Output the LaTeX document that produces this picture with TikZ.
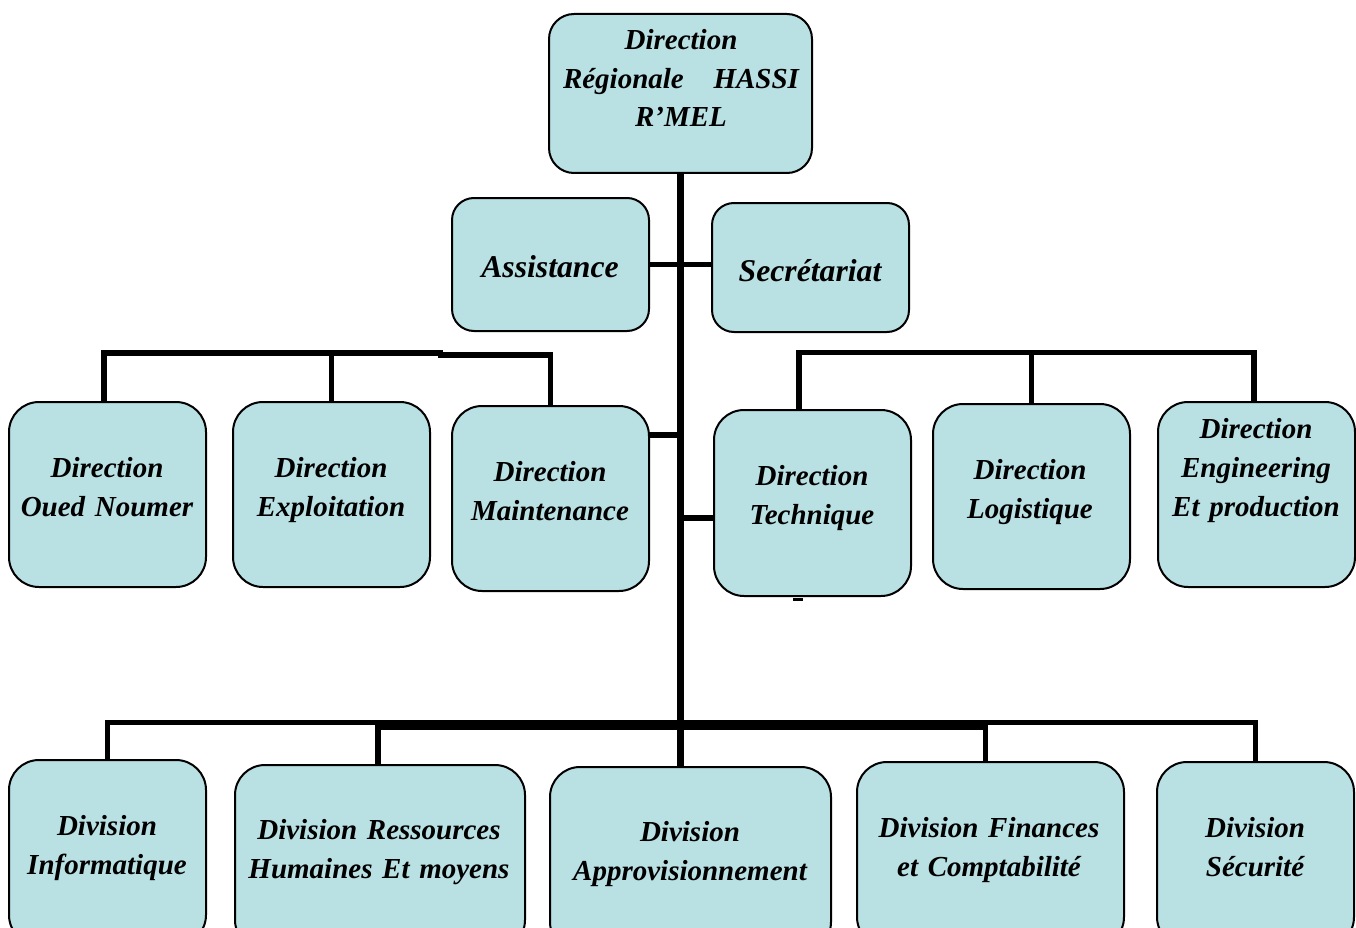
\documentclass[tikz,border=0pt]{standalone}
\usepackage{fontspec}
\setmainfont{Liberation Serif}
\definecolor{boxfill}{RGB}{185,224,227}
\tikzset{
  orgbox/.style={draw=black, line width=2pt, fill=boxfill, rounded corners=30pt,
    inner sep=0pt, minimum width=197pt, minimum height=185pt},
  link/.style={draw=black, line width=5.5pt, line join=miter, line cap=butt},
  lbl/.style={anchor=base, align=center, text width=#1, inner sep=0pt,
    font=\bfseries\itshape\fontsize{29}{39}\selectfont},
  lbl/.default=300pt
}
\begin{document}
\begin{tikzpicture}[x={(1pt,0)}, y={(0,-1pt)}]
\useasboundingbox (0,0) rectangle (1356,928);
\clip (0,0) rectangle (1356,928);

% head of the organisation
\node[orgbox, rounded corners=25pt, minimum width=263pt, minimum height=159pt] (top) at (680.5,93.5) {};
\node[lbl=236pt, font=\bfseries\itshape\fontsize{29}{38.5}\selectfont] (ttop) at (681,50)
  {Direction\\Régionale\hfill HASSI\\R’MEL};

% staff units
\node[orgbox, rounded corners=22pt, minimum height=133pt] (assist) at (550.5,264.5) {};
\node[orgbox, rounded corners=22pt, minimum height=129pt] (secr) at (810.5,267.5) {};
\node[lbl, font=\bfseries\itshape\fontsize{31.7}{39}\selectfont] (tassist) at (550,277) {Assistance};
\node[lbl, font=\bfseries\itshape\fontsize{31.7}{39}\selectfont] (tsecr) at (810,281) {Secrétariat};

% directions
\node[orgbox] (oued) at (107.5,494.5) {};
\node[orgbox] (expl) at (331.5,494.5) {};
\node[orgbox] (maint) at (550.5,498.5) {};
\node[orgbox, minimum height=186pt] (tech) at (812.5,503) {};
\node[orgbox] (logi) at (1031.5,496.5) {};
\node[orgbox] (eng) at (1256.5,494.5) {};

\node[lbl] (toued) at (107,477) {Direction\\Oued Noumer};
\node[lbl] (texpl) at (331,477) {Direction\\Exploitation};
\node[lbl] (tmaint) at (550,481) {Direction\\Maintenance};
\node[lbl] (ttech) at (812,485) {Direction\\Technique};
\node[lbl] (tlogi) at (1030,479) {Direction\\Logistique};
\node[lbl] (teng) at (1256,438) {Direction\\Engineering\\Et production};

% divisions
\node[orgbox] (info) at (107.5,852.5) {};
\node[orgbox, minimum width=290pt] (rh) at (380,857.5) {};
\node[orgbox, minimum width=281pt] (appro) at (690.5,859.5) {};
\node[orgbox, minimum width=267pt] (fin) at (990.5,854.5) {};
\node[orgbox] (secu) at (1255.5,854.5) {};

\node[lbl] (tinfo) at (107,835) {Division\\Informatique};
\node[lbl] (trh) at (379,839) {Division Ressources\\Humaines Et moyens};
\node[lbl] (tappro) at (690,841) {Division\\Approvisionnement};
\node[lbl] (tfin) at (989,837) {Division Finances\\et Comptabilité};
\node[lbl] (tsecu) at (1255,837) {Division\\Sécurité};

% main trunk
\draw[link, line width=6.5pt] (top.south) -- (top.south |- appro.north);

% staff links
\draw[link] (assist.east) -- (secr.west |- assist.east);

% direction links
\draw[link] ([yshift=63.5pt]maint.east) -- ([yshift=63.5pt]maint.east -| top.south);
\draw[link] ([yshift=-15pt]tech.west) -- ([yshift=-15pt]tech.west -| top.south);

% left group bus
\draw[link] ([xshift=-3.5pt]oued.north) -- ++(0,-48) -- ++(339,0);
\draw[link] (maint.north) -- ++(0,-50) -- ++(-112.5,0);
\draw[link] (expl.north) -- ++(0,-48);

% right group bus
\draw[link] ([xshift=-13.5pt]tech.north) |- ([xshift=-2.5pt,yshift=48.5pt]eng.north) -- ([xshift=-2.5pt]eng.north);
\draw[link] (logi.north) -- ++(0,-50.5);
\draw[line width=3pt] ([xshift=-19.5pt,yshift=-2.5pt]tech.south) -- ++(10,0);

% division bus
\draw[link] (info.north) |- ([yshift=38.5pt]secu.north) -- (secu.north);
\draw[link] ([xshift=-2pt]rh.north) |- ([xshift=-5pt,yshift=34pt]fin.north) -- ([xshift=-5pt]fin.north);
\end{tikzpicture}
\end{document}
